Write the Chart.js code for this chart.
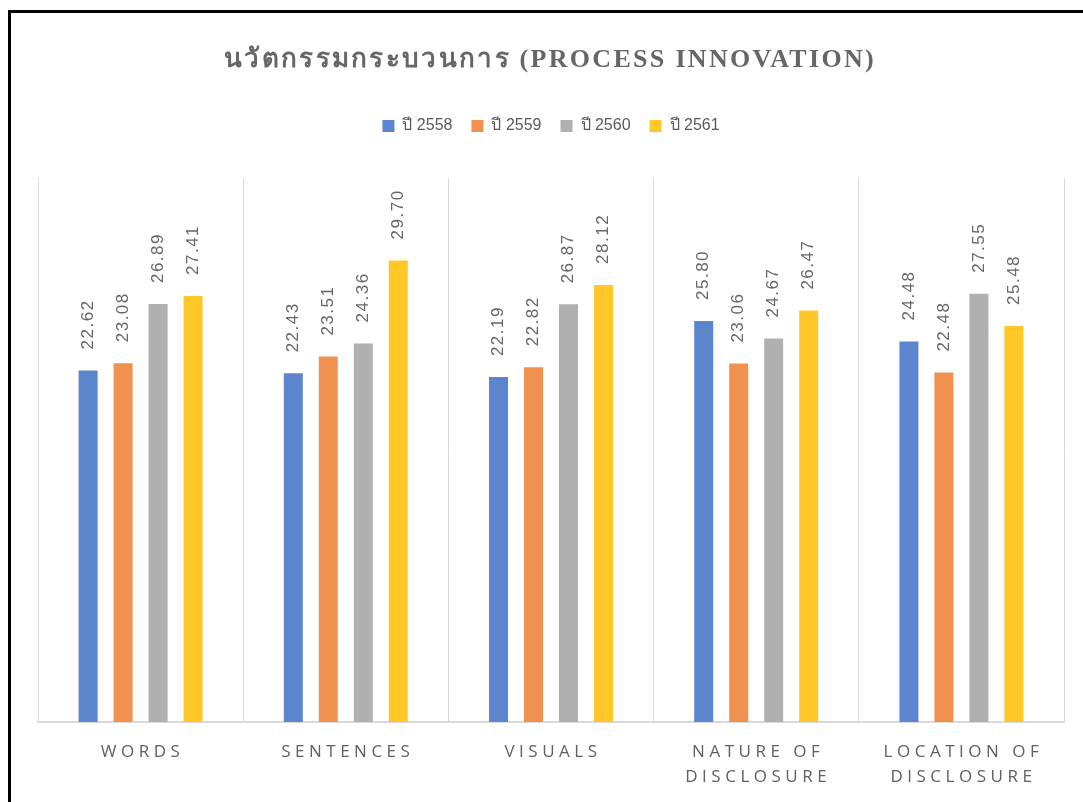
<!DOCTYPE html>
<html>
<head>
<meta charset="utf-8">
<title>Process Innovation</title>
<script src="https://cdn.jsdelivr.net/npm/chart.js@4.4.1/dist/chart.umd.min.js"></script>
<style>
  html, body { margin: 0; padding: 0; background: #fff; }
  .wrap { position: relative; width: 1083px; height: 802px; overflow: hidden; }
  .frame {
    position: absolute; left: 8px; top: 10px; right: -10px; bottom: -10px;
    border-left: 3px solid #000; border-top: 3px solid #000; pointer-events: none;
  }
  canvas { position: absolute; left: 0; top: 0; }
</style>
</head>
<body>
<div class="wrap">
  <canvas id="bar-chart" width="1083" height="802"></canvas>
  <div class="frame"></div>
</div>
<script>
'use strict';

// data
var chartTitle = 'นวัตกรรมกระบวนการ (PROCESS INNOVATION)';
var categories = [['WORDS'], ['SENTENCES'], ['VISUALS'], ['NATURE OF', 'DISCLOSURE'], ['LOCATION OF', 'DISCLOSURE']];
var years = ['ปี 2558', 'ปี 2559', 'ปี 2560', 'ปี 2561'];
var y2558 = [22.62, 22.43, 22.19, 25.80, 24.48];
var y2559 = [23.08, 23.51, 22.82, 23.06, 22.48];
var y2560 = [26.89, 24.36, 26.87, 24.67, 27.55];
var y2561 = [27.41, 29.70, 28.12, 26.47, 25.48];

var colors = ['#5b85cc', '#f09150', '#b0b0b0', '#ffc828'];
var textGray = '#666666';

// title drawn with letter spacing
var titleText = {
  id: 'titleText',
  afterDraw: function (chart) {
    var ctx = chart.ctx, area = chart.chartArea;
    ctx.save();
    ctx.font = 'bold 26px "Liberation Serif", "DejaVu Serif", serif';
    ctx.letterSpacing = '2.3px';
    ctx.fillStyle = textGray;
    ctx.textAlign = 'center';
    ctx.textBaseline = 'middle';
    ctx.fillText(chartTitle, (area.left + area.right) / 2 - 1, 60);
    ctx.restore();
  }
};

// spaced category labels under the axis
var xLabels = {
  id: 'xLabels',
  afterDraw: function (chart) {
    var ctx = chart.ctx, scale = chart.scales.x;
    ctx.save();
    ctx.font = '17px "Open Sans", "Liberation Sans", sans-serif';
    ctx.letterSpacing = '4.5px';
    ctx.fillStyle = '#606060';
    ctx.textAlign = 'center';
    ctx.textBaseline = 'middle';
    categories.forEach(function (lines, i) {
      var x = scale.getPixelForValue(i) + 2;
      lines.forEach(function (line, j) {
        ctx.fillText(line, x, scale.bottom + 30 + j * 25);
      });
    });
    ctx.restore();
  }
};

// rotated value labels above bars
var valueLabels = {
  id: 'valueLabels',
  afterDatasetsDraw: function (chart) {
    var ctx = chart.ctx;
    ctx.save();
    ctx.font = '17px "Liberation Sans", Arial, sans-serif';
    ctx.letterSpacing = '1.5px';
    ctx.fillStyle = textGray;
    ctx.textAlign = 'left';
    ctx.textBaseline = 'middle';
    chart.data.datasets.forEach(function (ds, d) {
      chart.getDatasetMeta(d).data.forEach(function (bar, i) {
        ctx.save();
        ctx.translate(bar.x, bar.y - 21);
        ctx.rotate(-Math.PI / 2);
        ctx.fillText(ds.data[i].toFixed(2), 0, 0);
        ctx.restore();
      });
    });
    ctx.restore();
  }
};

new Chart(document.getElementById('bar-chart'), {
  type: 'bar',
  data: {
    labels: categories,
    datasets: [
      { label: years[0], data: y2558, backgroundColor: colors[0] },
      { label: years[1], data: y2559, backgroundColor: colors[1] },
      { label: years[2], data: y2560, backgroundColor: colors[2] },
      { label: years[3], data: y2561, backgroundColor: colors[3] }
    ]
  },
  options: {
    responsive: false,
    animation: false,
    categoryPercentage: 0.682,
    barPercentage: 0.543,
    layout: { padding: { top: 99, left: 38, right: 19, bottom: 80 } },
    plugins: {
      legend: {
        position: 'top',
        labels: {
          boxWidth: 12,
          boxHeight: 12,
          padding: 19,
          color: '#595959',
          font: { size: 16, family: '"Liberation Sans", Arial, sans-serif' }
        }
      },
      // empty spacer between legend and plot
      subtitle: {
        display: true,
        text: '',
        weight: 500,
        font: { size: 1, lineHeight: 1 },
        padding: { top: 0, bottom: 33 }
      },
      tooltip: { enabled: false }
    },
    scales: {
      x: {
        grid: { offset: true, color: '#d9d9d9', lineWidth: 1, drawTicks: false },
        border: { color: '#d9d9d9', width: 2 },
        ticks: { display: false }
      },
      y: {
        display: false,
        min: 0,
        max: 35
      }
    }
  },
  plugins: [valueLabels, xLabels, titleText]
});
</script>
</body>
</html>
